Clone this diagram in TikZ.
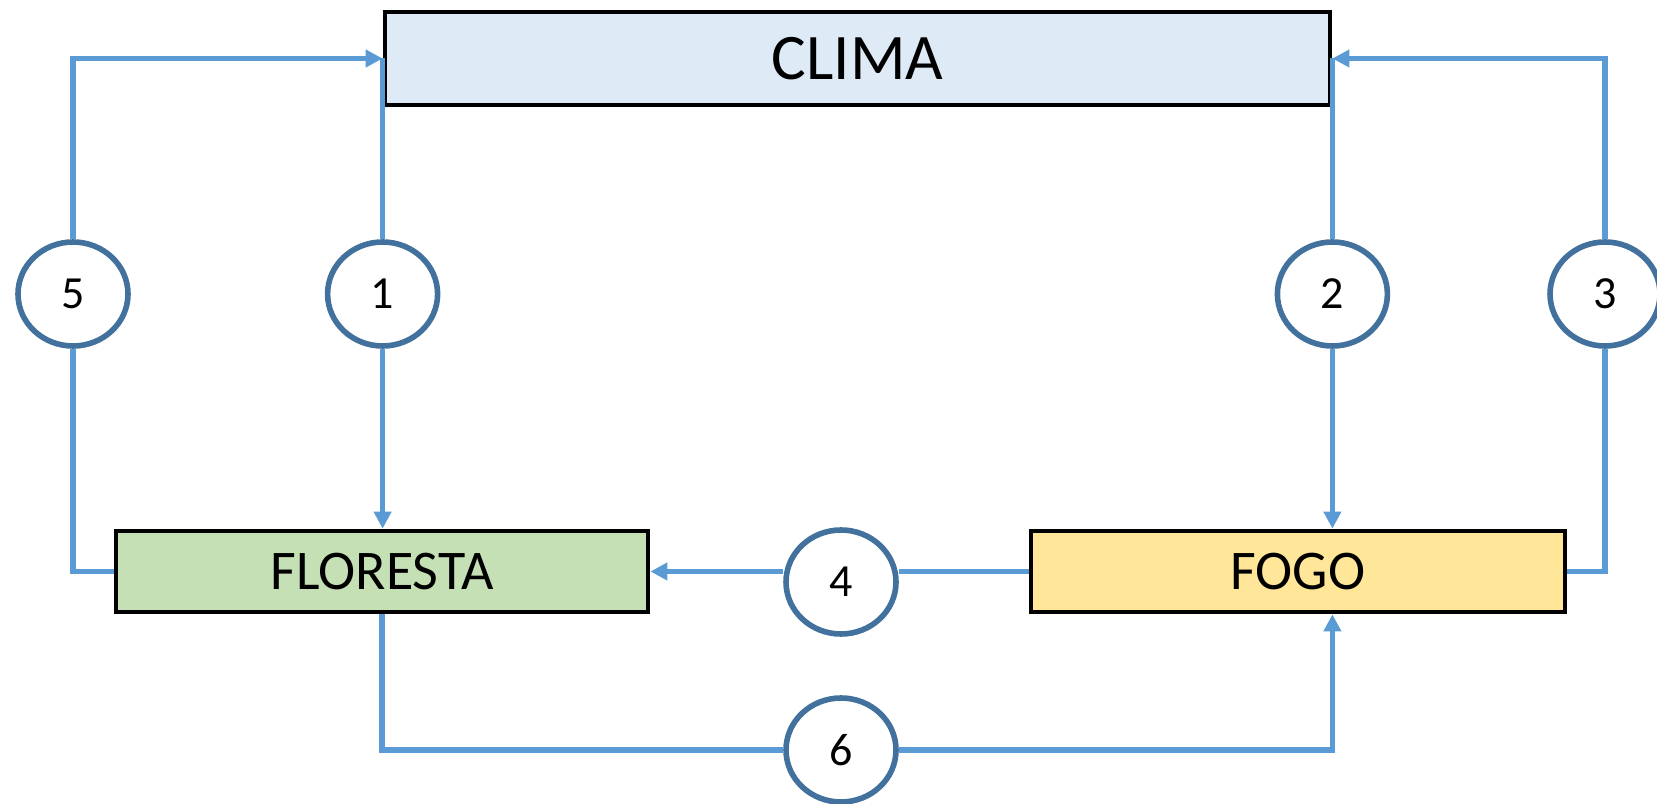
\documentclass[tikz,border=0pt]{standalone}
\usepackage{fontspec}
\setmainfont{Carlito}
\usetikzlibrary{arrows.meta,shapes.geometric}

\begin{document}
\begin{tikzpicture}[x=0.5pt,y=0.5pt,
  box/.style={draw=black,line width=2.4pt,inner sep=0pt,minimum height=40.5pt,font=\fontsize{28}{32}\selectfont},
  num/.style={ellipse,draw=numBorder,line width=2.8pt,fill=white,inner sep=0pt,
    minimum width=55pt,minimum height=52pt,font=\fontsize{23}{27}\selectfont},
  link/.style={draw=linkBlue,line width=2.7pt},
  arr/.style={link,-{Triangle[length=8.5pt,width=8.5pt]}}]
\definecolor{linkBlue}{HTML}{5B9BD5}
\definecolor{numBorder}{HTML}{41719C}
\definecolor{climaFill}{HTML}{DEEBF7}
\definecolor{florestaFill}{HTML}{C5E0B4}
\definecolor{fogoFill}{HTML}{FFE699}
\useasboundingbox (0,0) rectangle (1657,803);
\node[box,fill=climaFill,minimum width=472.5pt,minimum height=46.5pt,
  font=\fontsize{32.5}{38}\selectfont] (clima) at (857.5,744.5) {CLIMA};
\node[box,fill=florestaFill,minimum width=266pt] (floresta) at (382,231.5) {FLORESTA};
\node[box,fill=fogoFill,minimum width=267pt] (fogo) at (1298,231.5) {FOGO};
\foreach \n/\x/\y in {5/73/509,1/382.6/509,2/1332.4/509,3/1605/509,4/841/221,6/841/53} {
  \node[num] (c\n) at (\x,\y) {\n};
}
\draw[arr] (c5.north) |- (clima.west);
\draw[link] (floresta.west) -| (c5.south);
\draw[link] (c1.north) -- (clima.west);
\draw[arr] (c1.south) -- (c1.south |- floresta.north);
\draw[link] (clima.east) -- (c2.north);
\draw[arr] (c2.south) -- (c2.south |- fogo.north);
\draw[arr] (c3.north) |- (clima.east);
\draw[link] (fogo.east) -| (c3.south);
\draw[link] (fogo.west) -- (fogo.west -| c4.east);
\draw[arr] (floresta.east -| c4.west) -- (floresta.east);
\draw[link] (floresta.south) |- (c6.west);
\draw[arr] (c6.east) -| (c2 |- fogo.south);
\end{tikzpicture}
\end{document}
